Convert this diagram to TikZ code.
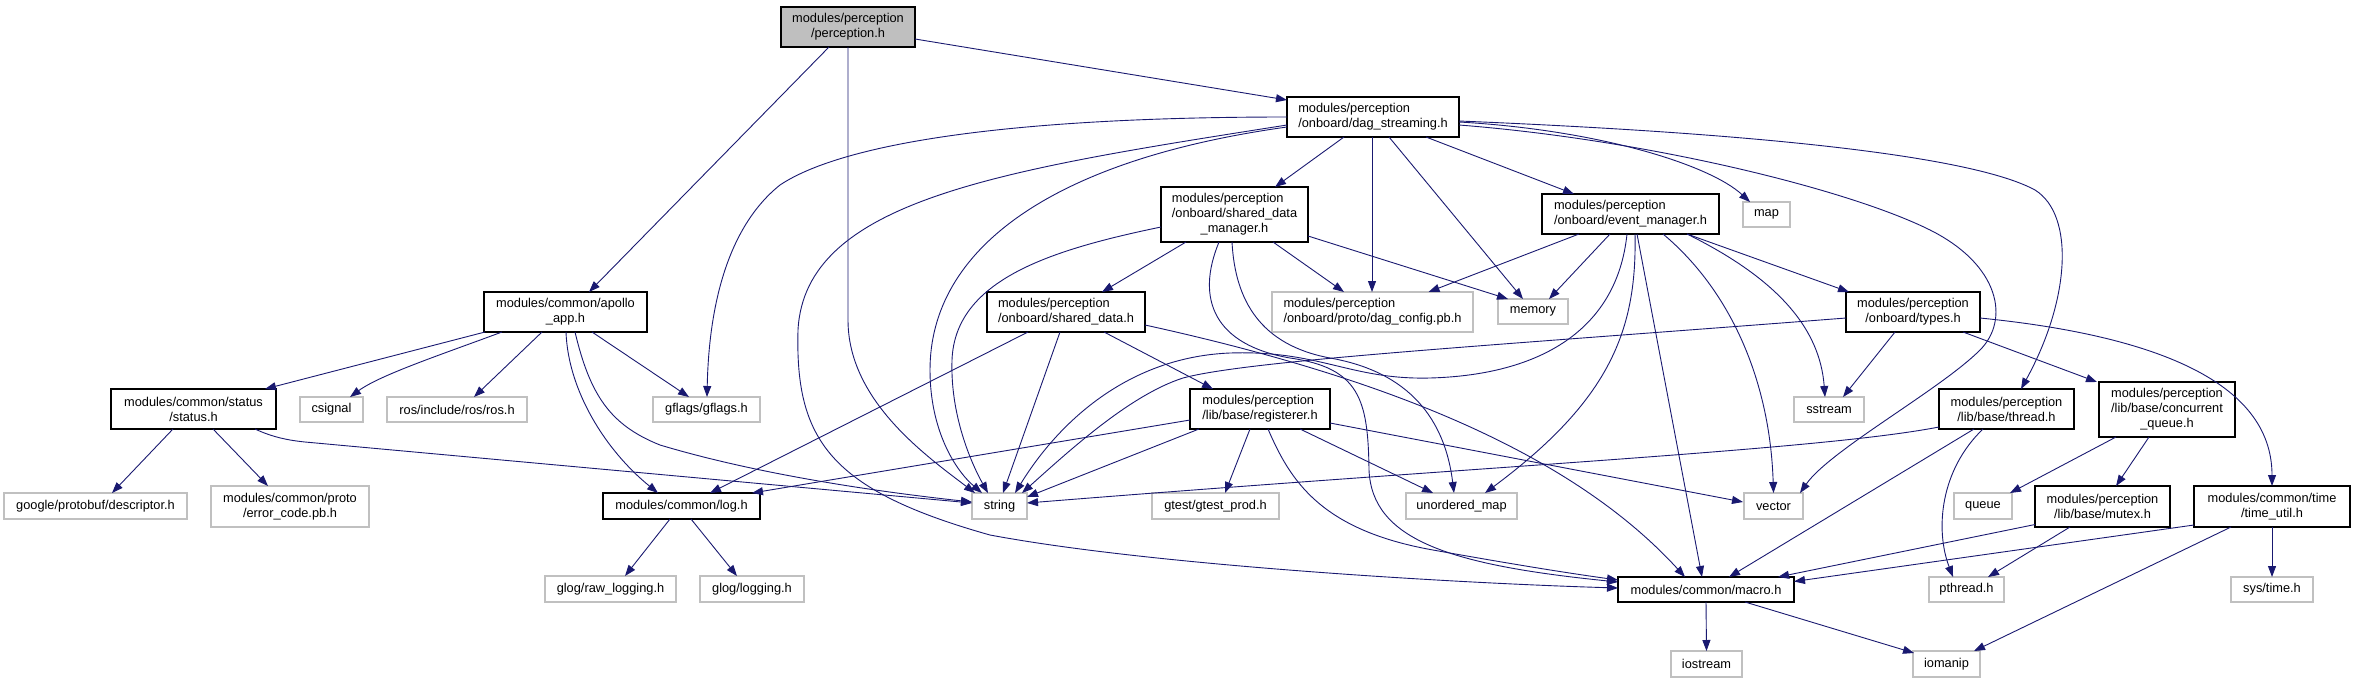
\documentclass[tikz,border=0pt]{standalone}
\usepackage{fontspec}
\setmainfont{Liberation Sans}
\usetikzlibrary{arrows.meta,calc}
\definecolor{edgeblue}{HTML}{191970}
\definecolor{rootgray}{HTML}{BFBFBF}
\definecolor{extgray}{HTML}{C0C0C0}
\begin{document}
\begin{tikzpicture}[x=1pt,y=-1pt,
  every node/.style={font=\fontsize{12.8pt}{15pt}\selectfont, inner sep=0pt, outer sep=0pt},
  own/.style={draw=black, line width=1.1pt, fill=white},
  ext/.style={draw=extgray, line width=1.2pt, fill=white},
  sz/.style 2 args={minimum width=#1pt, minimum height=#2pt},
  dep/.style={draw=edgeblue, line width=0.9pt, -{Triangle[length=11pt,width=8pt]}},
]
\useasboundingbox (0,0) rectangle (2355,683);

% nodes
\node[own, fill=rootgray, align=center, sz={134}{40}] (perc) at (848,27) {modules/perception\\/perception.h};
\node[own, align=left, sz={172}{40}] (ds) at (1373,117) {modules/perception\\/onboard/dag\_streaming.h};
\node[own, sz={147}{55}] (sdm) at (1234.5,214.5) {\begin{tabular}{@{}l@{}}modules/perception\\/onboard/shared\_data\\\multicolumn{1}{@{}c@{}}{\_manager.h}\end{tabular}};
\node[own, align=left, sz={158}{40}] (sd) at (1066,312) {modules/perception\\/onboard/shared\_data.h};
\node[ext, align=left, sz={201}{40}] (dagcfg) at (1372.5,312) {modules/perception\\/onboard/proto/dag\_config.pb.h};
\node[ext, sz={70}{25}] (memory) at (1533,311.5) {memory};
\node[own, align=left, sz={177}{40}] (em) at (1630.5,214) {modules/perception\\/onboard/event\_manager.h};
\node[ext, sz={47}{25}] (map) at (1766.5,214.5) {map};
\node[own, align=center, sz={134}{40}] (types) at (1913,312) {modules/perception\\/onboard/types.h};
\node[own, align=center, sz={163}{40}] (apollo) at (565.5,312) {modules/common/apollo\\\_app.h};
\node[own, align=center, sz={165}{40}] (status) at (193.5,409) {modules/common/status\\/status.h};
\node[ext, sz={63}{25}] (csignal) at (331.5,409.5) {csignal};
\node[ext, sz={140}{25}] (ros) at (457,409.5) {ros/include/ros/ros.h};
\node[ext, sz={107}{25}] (gflags) at (706.5,409.5) {gflags/gflags.h};
\node[ext, sz={183}{26}] (descriptor) at (95.5,506) {google/protobuf/descriptor.h};
\node[ext, align=center, sz={158}{41}] (errcode) at (290,506.5) {modules/common/proto\\/error\_code.pb.h};
\node[own, sz={157}{26}] (log) at (681.5,506) {modules/common/log.h};
\node[ext, sz={131}{26}] (rawlog) at (610.5,589) {glog/raw\_logging.h};
\node[ext, sz={104}{26}] (glogging) at (752,589) {glog/logging.h};
\node[ext, sz={55}{26}] (string) at (999.5,506) {string};
\node[own, align=left, sz={140}{40}] (reg) at (1260,409) {modules/perception\\/lib/base/registerer.h};
\node[ext, sz={127}{26}] (gtest) at (1215.5,506) {gtest/gtest\_prod.h};
\node[ext, sz={111}{26}] (umap) at (1461.5,506) {unordered\_map};
\node[ext, sz={70}{25}] (sstream) at (1829,409.5) {sstream};
\node[own, align=center, sz={135}{40}] (thread) at (2006.5,409) {modules/perception\\/lib/base/thread.h};
\node[own, align=center, sz={136}{55}] (cqueue) at (2167,409.5) {modules/perception\\/lib/base/concurrent\\\_queue.h};
\node[ext, sz={59}{26}] (vector) at (1773.5,506) {vector};
\node[ext, sz={58}{26}] (queue) at (1983,506) {queue};
\node[own, align=center, sz={135}{41}] (mutex) at (2102.5,506.5) {modules/perception\\/lib/base/mutex.h};
\node[own, align=center, sz={156}{41}] (timeutil) at (2272,506.5) {modules/common/time\\/time\_util.h};
\node[own, sz={176}{25}] (macro) at (1706,589.5) {modules/common/macro.h};
\node[ext, sz={75}{25}] (pthread) at (1966.5,589.5) {pthread.h};
\node[ext, sz={82}{25}] (systime) at (2272,589.5) {sys/time.h};
\node[ext, sz={71}{26}] (iostream) at (1706.5,664) {iostream};
\node[ext, sz={67}{26}] (iomanip) at (1946.5,664) {iomanip};

% perception.h
\draw[dep] ($(perc)+(-19,20)$) -- ($(apollo)+(23.5,-20)$);
\draw[dep] (perc.south) -- (848,320) .. controls (848,400) and (925,455) .. ($(string)+(-24.5,-13)$);
\draw[dep] ($(perc)+(67,12)$) -- ($(ds)+(-86,-17)$);

% apollo_app.h
\draw[dep] ($(apollo)+(-80.5,20)$) -- ($(status)+(71.5,-20)$);
\draw[dep] ($(apollo)+(-63.5,20)$) .. controls (440,355) and (380,375) .. ($(csignal)+(18.5,-12.5)$);
\draw[dep] ($(apollo)+(-23.5,20)$) -- ($(ros)+(17,-12.5)$);
\draw[dep] ($(apollo)+(0.5,20)$) .. controls (568,390) and (605,450) .. ($(log)+(-23.5,-13)$);
\draw[dep] ($(apollo)+(9.5,20)$) .. controls (590,395) and (610,425) .. (660,445) .. controls (760,475) and (880,492) .. ($(string)+(-27.5,-4)$);
\draw[dep] ($(apollo)+(26.5,20)$) -- ($(gflags)+(-17.5,-12.5)$);

% status.h
\draw[dep] ($(status)+(-20.5,20)$) -- ($(descriptor)+(16.5,-13)$);
\draw[dep] ($(status)+(19.5,20)$) -- ($(errcode)+(-22,-20.5)$);
\draw[dep] ($(status)+(61.5,20)$) .. controls (270,436) and (285,440) .. (305,442) -- ($(string)+(-27.5,-3)$);

% log.h
\draw[dep] ($(log)+(-11.5,13)$) -- ($(rawlog)+(14.5,-13)$);
\draw[dep] ($(log)+(9.5,13)$) -- ($(glogging)+(-15,-13)$);

% dag_streaming.h
\draw[dep] ($(ds)+(-86,0)$) .. controls (1000,117) and (840,145) .. (780,185) .. controls (730,225) and (709,300) .. ($(gflags)+(0.5,-12.5)$);
\draw[dep] ($(ds)+(-86,8)$) .. controls (1000,170) and (805,200) .. (798,330) .. controls (795,440) and (830,490) .. (990,535) .. controls (1150,565) and (1450,583) .. ($(macro)+(-88,-1.5)$);
\draw[dep] ($(ds)+(-86,10)$) .. controls (1050,160) and (930,250) .. (930,370) .. controls (930,430) and (955,470) .. ($(string)+(-17.5,-13)$);
\draw[dep] ($(ds)+(-29,20)$) -- ($(sdm)+(40.5,-27.5)$);
\draw[dep] ($(ds)+(-1,20)$) -- ($(dagcfg)+(-0.5,-20)$);
\draw[dep] ($(ds)+(16,20)$) -- ($(memory)+(-10,-12.5)$);
\draw[dep] ($(ds)+(53,20)$) -- ($(em)+(-56.5,-20)$);
\draw[dep] ($(ds)+(86,5)$) .. controls (1600,130) and (1710,165) .. ($(map)+(-16.5,-12.5)$);
\draw[dep] ($(ds)+(86,8)$) .. controls (1650,140) and (1850,190) .. (1930,230) .. controls (2000,265) and (2010,320) .. (1980,350) .. controls (1940,390) and (1830,450) .. ($(vector)+(26.5,-13)$);
\draw[dep] ($(ds)+(86,4)$) .. controls (1800,135) and (1980,160) .. (2035,190) .. controls (2075,215) and (2070,300) .. ($(thread)+(14.5,-20)$);

% shared_data_manager.h
\draw[dep] ($(sdm)+(-48.5,27.5)$) -- ($(sd)+(36,-20)$);
\draw[dep] ($(sdm)+(-73.5,12.5)$) .. controls (1050,250) and (955,280) .. (952,360) .. controls (950,420) and (975,470) .. ($(string)+(-11.5,-13)$);
\draw[dep] ($(sdm)+(38.5,27.5)$) -- ($(dagcfg)+(-28.5,-20)$);
\draw[dep] ($(sdm)+(73.5,21.5)$) -- ($(memory)+(-25,-12.5)$);
\draw[dep] ($(sdm)+(-2.5,27.5)$) .. controls (1235,300) and (1260,345) .. (1330,358) .. controls (1410,372) and (1445,420) .. ($(umap)+(-7.5,-13)$);
\draw[dep] ($(sdm)+(-15.5,27.5)$) .. controls (1195,300) and (1215,345) .. (1290,358) .. controls (1360,368) and (1368,400) .. (1369,470) .. controls (1372,540) and (1450,565) .. ($(macro)+(-88,-7.5)$);

% shared_data.h
\draw[dep] ($(sd)+(-38,20)$) -- ($(log)+(28.5,-13)$);
\draw[dep] ($(sd)+(-6,20)$) -- ($(string)+(3.5,-13)$);
\draw[dep] ($(sd)+(38,20)$) -- ($(reg)+(-47,-20)$);
\draw[dep] ($(sd)+(79,13)$) .. controls (1350,370) and (1560,440) .. ($(macro)+(-21,-12.5)$);

% registerer.h
\draw[dep] ($(reg)+(-70,11)$) -- ($(log)+(70.5,-13)$);
\draw[dep] ($(reg)+(-61,20)$) -- ($(string)+(27.5,-9)$);
\draw[dep] ($(reg)+(-10,20)$) -- ($(gtest)+(9.5,-13)$);
\draw[dep] ($(reg)+(8,20)$) .. controls (1290,480) and (1320,530) .. (1433,550) .. controls (1500,562) and (1560,572) .. ($(macro)+(-88,-9.5)$);
\draw[dep] ($(reg)+(40,20)$) -- ($(umap)+(-28.5,-13)$);
\draw[dep] ($(reg)+(70,14)$) -- ($(vector)+(-30.5,-4)$);

% event_manager.h
\draw[dep] ($(em)+(-51.5,20)$) -- ($(dagcfg)+(56,-20)$);
\draw[dep] ($(em)+(-20.5,20)$) -- ($(memory)+(16,-12.5)$);
\draw[dep] ($(em)+(-3.5,20)$) .. controls (1617,330) and (1540,375) .. (1430,378) .. controls (1350,380) and (1320,350) .. (1230,353) .. controls (1130,357) and (1060,420) .. ($(string)+(15.5,-13)$);
\draw[dep] ($(em)+(4.5,20)$) .. controls (1637,330) and (1610,400) .. ($(umap)+(23.5,-13)$);
\draw[dep] ($(em)+(6.5,20)$) -- ($(macro)+(-4,-12.5)$);
\draw[dep] ($(em)+(32.5,20)$) .. controls (1730,290) and (1770,380) .. ($(vector)+(0,-13)$);
\draw[dep] ($(em)+(56.5,20)$) .. controls (1780,280) and (1820,330) .. ($(sstream)+(-4,-12.5)$);
\draw[dep] ($(em)+(56.5,20)$) -- ($(types)+(-64,-20)$);

% types.h
\draw[dep] ($(types)+(-67,6)$) .. controls (1500,345) and (1250,360) .. (1183,378) .. controls (1130,395) and (1070,450) .. ($(string)+(22.5,-13)$);
\draw[dep] ($(types)+(-18,20)$) -- ($(sstream)+(14,-12.5)$);
\draw[dep] ($(types)+(50,20)$) -- ($(cqueue)+(-70,-27.5)$);
\draw[dep] ($(types)+(67,6)$) .. controls (2150,335) and (2272,380) .. ($(timeutil)+(0,-20.5)$);

% thread.h
\draw[dep] ($(thread)+(-67.5,18)$) .. controls (1820,450) and (1500,465) .. ($(string)+(27.5,-3)$);
\draw[dep] ($(thread)+(-32.5,20)$) -- ($(macro)+(23,-12.5)$);
\draw[dep] ($(thread)+(-23.5,20)$) .. controls (1940,470) and (1935,530) .. ($(pthread)+(-13.5,-12.5)$);

% concurrent_queue.h
\draw[dep] ($(cqueue)+(-51,27.5)$) -- ($(queue)+(27,-13)$);
\draw[dep] ($(cqueue)+(-18,27.5)$) -- ($(mutex)+(13.5,-20.5)$);

% mutex.h
\draw[dep] ($(mutex)+(-67.5,18)$) -- ($(macro)+(72,-12.5)$);
\draw[dep] ($(mutex)+(-32.5,20.5)$) -- ($(pthread)+(21.5,-12.5)$);

% time_util.h
\draw[dep] ($(timeutil)+(-78,18.5)$) -- ($(macro)+(88,-8)$);
\draw[dep] ($(timeutil)+(0,20.5)$) -- ($(systime)+(0,-12.5)$);
\draw[dep] ($(timeutil)+(-41,20.5)$) -- ($(iomanip)+(27.5,-13)$);

% macro.h
\draw[dep] ($(macro)+(0,12.5)$) -- ($(iostream)+(0,-13)$);
\draw[dep] ($(macro)+(39,12.5)$) -- ($(iomanip)+(-32.5,-11)$);
\end{tikzpicture}
\end{document}
